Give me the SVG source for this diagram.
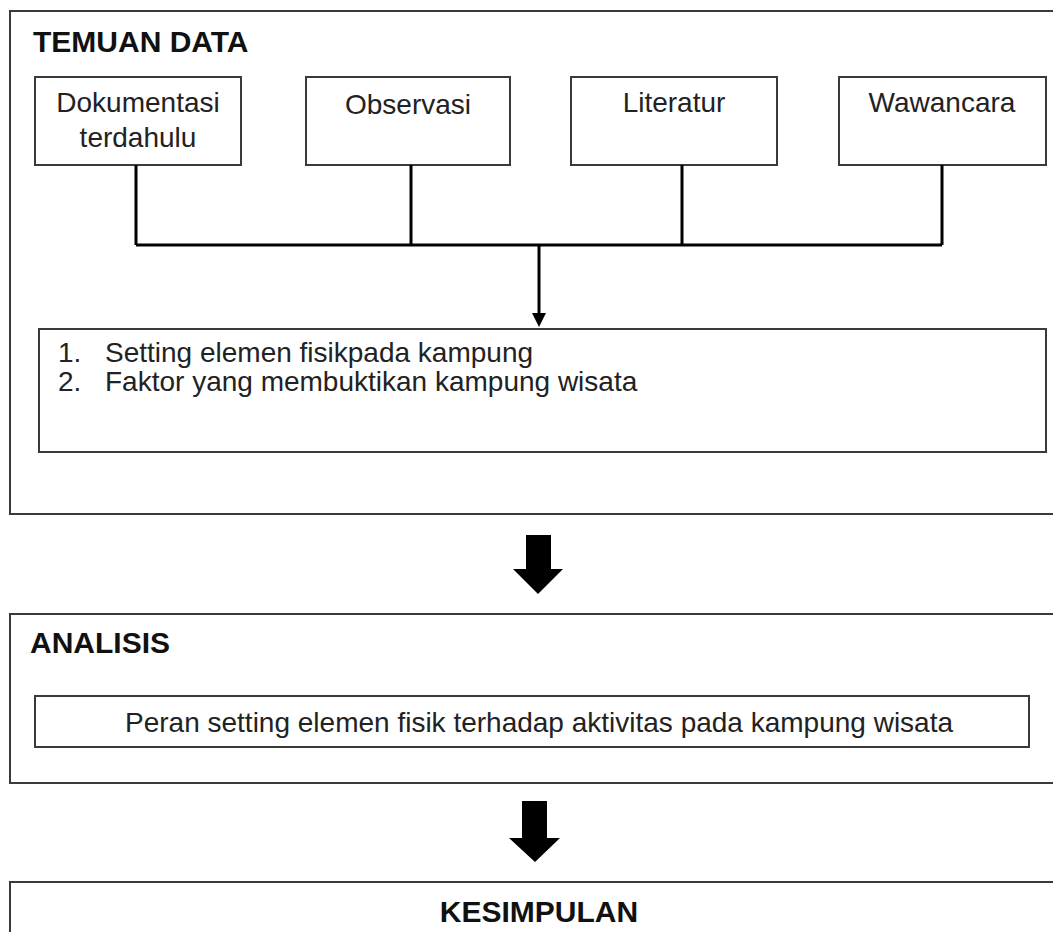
<svg xmlns="http://www.w3.org/2000/svg" width="1053" height="932" viewBox="0 0 1053 932">
<defs>
<style>
.frame{fill:#ffffff;stroke:#3a3a3a;stroke-width:2}
.box{fill:#ffffff;stroke:#3a3a3a;stroke-width:2}
.title{font-family:"Liberation Sans",Arial,sans-serif;font-weight:bold;font-size:30px;fill:#111}
.txt{font-family:"Liberation Sans",Arial,sans-serif;font-size:28px;fill:#222}
.wire{fill:none;stroke:#000;stroke-width:3}
.big{fill:#000}
</style>
</defs>
<rect width="1053" height="932" fill="#ffffff"/>

<g id="temuan-data">
<rect class="frame" x="10" y="11" width="1060" height="503"/>
<text class="title" x="33" y="52">TEMUAN DATA</text>
</g>

<g id="dokumentasi">
<rect class="box" x="35" y="77" width="206" height="88"/>
<text class="txt" x="138" y="112" text-anchor="middle">Dokumentasi</text>
<text class="txt" x="138" y="147" text-anchor="middle">terdahulu</text>
</g>
<g id="observasi">
<rect class="box" x="306" y="77" width="204" height="88"/>
<text class="txt" x="408" y="114" text-anchor="middle">Observasi</text>
</g>
<g id="literatur">
<rect class="box" x="571" y="77" width="206" height="88"/>
<text class="txt" x="674" y="112" text-anchor="middle">Literatur</text>
</g>
<g id="wawancara">
<rect class="box" x="839" y="77" width="207" height="88"/>
<text class="txt" x="942" y="112" text-anchor="middle">Wawancara</text>
</g>

<g id="temuan-list">
<rect class="box" x="39" y="329" width="1007" height="123"/>
<text class="txt" x="58" y="362">1.</text>
<text class="txt" x="105" y="362">Setting elemen fisikpada kampung</text>
<text class="txt" x="58" y="391">2.</text>
<text class="txt" x="105" y="391">Faktor yang membuktikan kampung wisata</text>
</g>

<g id="connectors">
<path class="wire" d="M136,165 V245 M411,165 V245 M682,165 V245 M942,165 V245 M136,245 H942"/>
<path class="wire" d="M539,245 V314"/>
<path d="M532,313 L546,313 L539,327 Z" fill="#000"/>
<path class="big" d="M526,535 H551 V569 H563 L538,594 L513,569 H526 Z"/>
<path class="big" d="M522,801 H547 V838 H560 L535,862 L509,838 H522 Z"/>
</g>

<g id="analisis">
<rect class="frame" x="10" y="614" width="1060" height="169"/>
<text class="title" x="30" y="653">ANALISIS</text>
</g>
<g id="analisis-peran">
<rect class="box" x="35" y="696" width="994" height="51"/>
<text class="txt" x="125" y="732">Peran setting elemen fisik terhadap aktivitas pada kampung wisata</text>
</g>

<g id="kesimpulan">
<rect class="frame" x="10" y="882" width="1060" height="80"/>
<text class="title" x="539" y="922" text-anchor="middle">KESIMPULAN</text>
</g>
</svg>
